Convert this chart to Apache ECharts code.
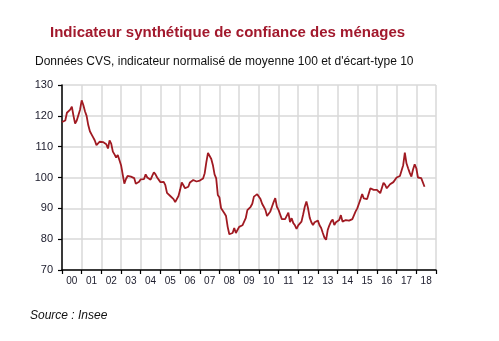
<!DOCTYPE html>
<html>
<head>
<meta charset="utf-8">
<script src="https://cdn.jsdelivr.net/npm/echarts@6/dist/echarts.min.js"></script>
<style>
  html, body { margin: 0; padding: 0; background: #fff; }
  #chart { width: 499px; height: 341px; }
</style>
</head>
<body>
<div id="chart"></div>
<script>
// Year labels shown under the axis (one band per year, 2000-2018)
const yearLabels = ['00','01','02','03','04','05','06','07','08','09',
                    '10','11','12','13','14','15','16','17','18'];

// Monthly household confidence indicator, Jan 2000 onwards (one row per year)
const confidence2000 = [118, 117.5, 118.5, 121, 121.5, 122, 123, 120, 117.5, 118.5, 119, 122];
const confidence2001 = [125, 123.5, 121.5, 120, 117, 115, 114, 113, 112, 110.5, 111, 111.6];
const confidence2002 = [111.8, 111.5, 111, 110.8, 109.4, 112, 111, 108.4, 107.5, 106.5, 107.3, 107.6];
const confidence2003 = [104, 101, 98, 99.5, 100.5, 100.8, 100.3, 100, 99.8, 98, 98.3, 98.6];
const confidence2004 = [99.4, 98.8, 99.5, 101, 100, 99.5, 99.3, 100.5, 101.7, 101, 100, 99.5];
const confidence2005 = [98.5, 98, 98.6, 97.5, 95, 94.5, 94, 93.8, 93, 92, 91.8, 94];
const confidence2006 = [96, 98.4, 97.5, 96.5, 95.9, 97, 98.4, 98.5, 99.2, 99, 98.7, 98.5];
const confidence2007 = [99, 99.3, 99.7, 101.4, 105, 108, 108.2, 106, 104, 101, 99.7, 94.3];
const confidence2008 = [93.5, 90, 89.5, 88.4, 87.5, 84, 81.6, 81.8, 82, 83.6, 82, 82.5];
const confidence2009 = [84, 83.5, 84.5, 84.6, 86.8, 89.4, 89.5, 90.5, 91.5, 93.8, 93.5, 94.6];
const confidence2010 = [94.5, 93, 91.5, 90.5, 89.5, 87.5, 87.5, 89, 90.5, 92, 93.3, 90.5];
const confidence2011 = [89.5, 88, 86.5, 86.2, 86.5, 87, 88.6, 85.5, 86.8, 85.2, 84.5, 83.3];
const confidence2012 = [84.5, 84.5, 85.7, 88, 90.5, 92.2, 90, 87, 85.5, 84.6, 85.5, 86];
const confidence2013 = [86, 84.5, 83.6, 82, 80.5, 79.8, 83, 84.5, 85.7, 86.4, 84.6, 85.5];
const confidence2014 = [86, 86.2, 87.8, 85.7, 86, 86.2, 86.3, 86, 86, 86.5, 86.4, 89];
const confidence2015 = [90, 91.5, 93, 94.6, 93.2, 93.3, 93, 93.5, 96.5, 96.5, 96, 96.5];
const confidence2016 = [96, 95.4, 94.9, 94.3, 98.3, 97.6, 96.5, 97, 97.8, 98, 98.5, 98.7];
const confidence2017 = [100, 100.6, 100.5, 100.3, 104, 108.1, 104.6, 103, 101.5, 100.3, 102.6, 104.3];
const confidence2018 = [103, 100, 100.3, 99.8, 99.2, 97];

// Y axis range and step
const yMin = 70, yMax = 130, yStep = 10;

const monthly = [].concat(
  confidence2000, confidence2001, confidence2002, confidence2003, confidence2004,
  confidence2005, confidence2006, confidence2007, confidence2008, confidence2009,
  confidence2010, confidence2011, confidence2012, confidence2013, confidence2014,
  confidence2015, confidence2016, confidence2017, confidence2018
);
// Month index counted from January 2000
const seriesData = monthly.map((v, i) => [i, v]);

const chart = echarts.init(document.getElementById('chart'), null, { renderer: 'canvas' });

const axisText = { color: '#1b1b2b', fontFamily: 'Liberation Sans, Arial, sans-serif' };

chart.setOption({
  backgroundColor: '#ffffff',
  animation: false,
  title: [
    {
      text: 'Indicateur synthétique de confiance des ménages',
      left: 50, top: 24, padding: 0,
      textStyle: { color: '#a2192d', fontSize: 15, fontWeight: 'bold',
                   fontFamily: 'Liberation Sans, Arial, sans-serif', lineHeight: 18 }
    },
    {
      text: 'Données CVS, indicateur normalisé de moyenne 100 et d\'écart-type 10',
      left: 35, top: 54, padding: 0,
      textStyle: { color: '#111', fontSize: 12, fontWeight: 'normal',
                   fontFamily: 'Liberation Sans, Arial, sans-serif', lineHeight: 15 }
    },
    {
      text: 'Source : Insee',
      left: 30, top: 308, padding: 0,
      textStyle: { color: '#111', fontSize: 12, fontWeight: 'normal', fontStyle: 'italic',
                   fontFamily: 'Liberation Sans, Arial, sans-serif', lineHeight: 15 }
    }
  ],
  grid: { left: 62, right: 63, top: 85, bottom: 71, containLabel: false },
  xAxis: [
    {
      type: 'category',
      data: yearLabels,
      boundaryGap: true,
      axisLine: { show: true, lineStyle: { color: '#000', width: 1.5 } },
      axisTick: { show: true, length: 4, inside: false, lineStyle: { color: '#000', width: 1.2 } },
      axisLabel: Object.assign({ fontSize: 10, margin: 6, interval: 0 }, axisText),
      splitLine: { show: true, interval: 0, lineStyle: { color: '#d9d9d9', width: 1.5 } }
    },
    {
      type: 'value',
      min: 0,
      max: yearLabels.length * 12,
      show: false
    }
  ],
  yAxis: {
    type: 'value',
    min: yMin, max: yMax, interval: yStep,
    axisLine: { show: true, lineStyle: { color: '#000', width: 1.5 } },
    axisTick: { show: true, length: 4, lineStyle: { color: '#000', width: 1.2 } },
    axisLabel: Object.assign({ fontSize: 11, margin: 9 }, axisText),
    splitLine: { show: true, lineStyle: { color: '#d9d9d9', width: 1.5 } }
  },
  series: [{
    type: 'line',
    xAxisIndex: 1,
    data: seriesData,
    showSymbol: false,
    lineStyle: { color: '#a01a22', width: 1.8 },
    z: 5
  }]
});
</script>
</body>
</html>
